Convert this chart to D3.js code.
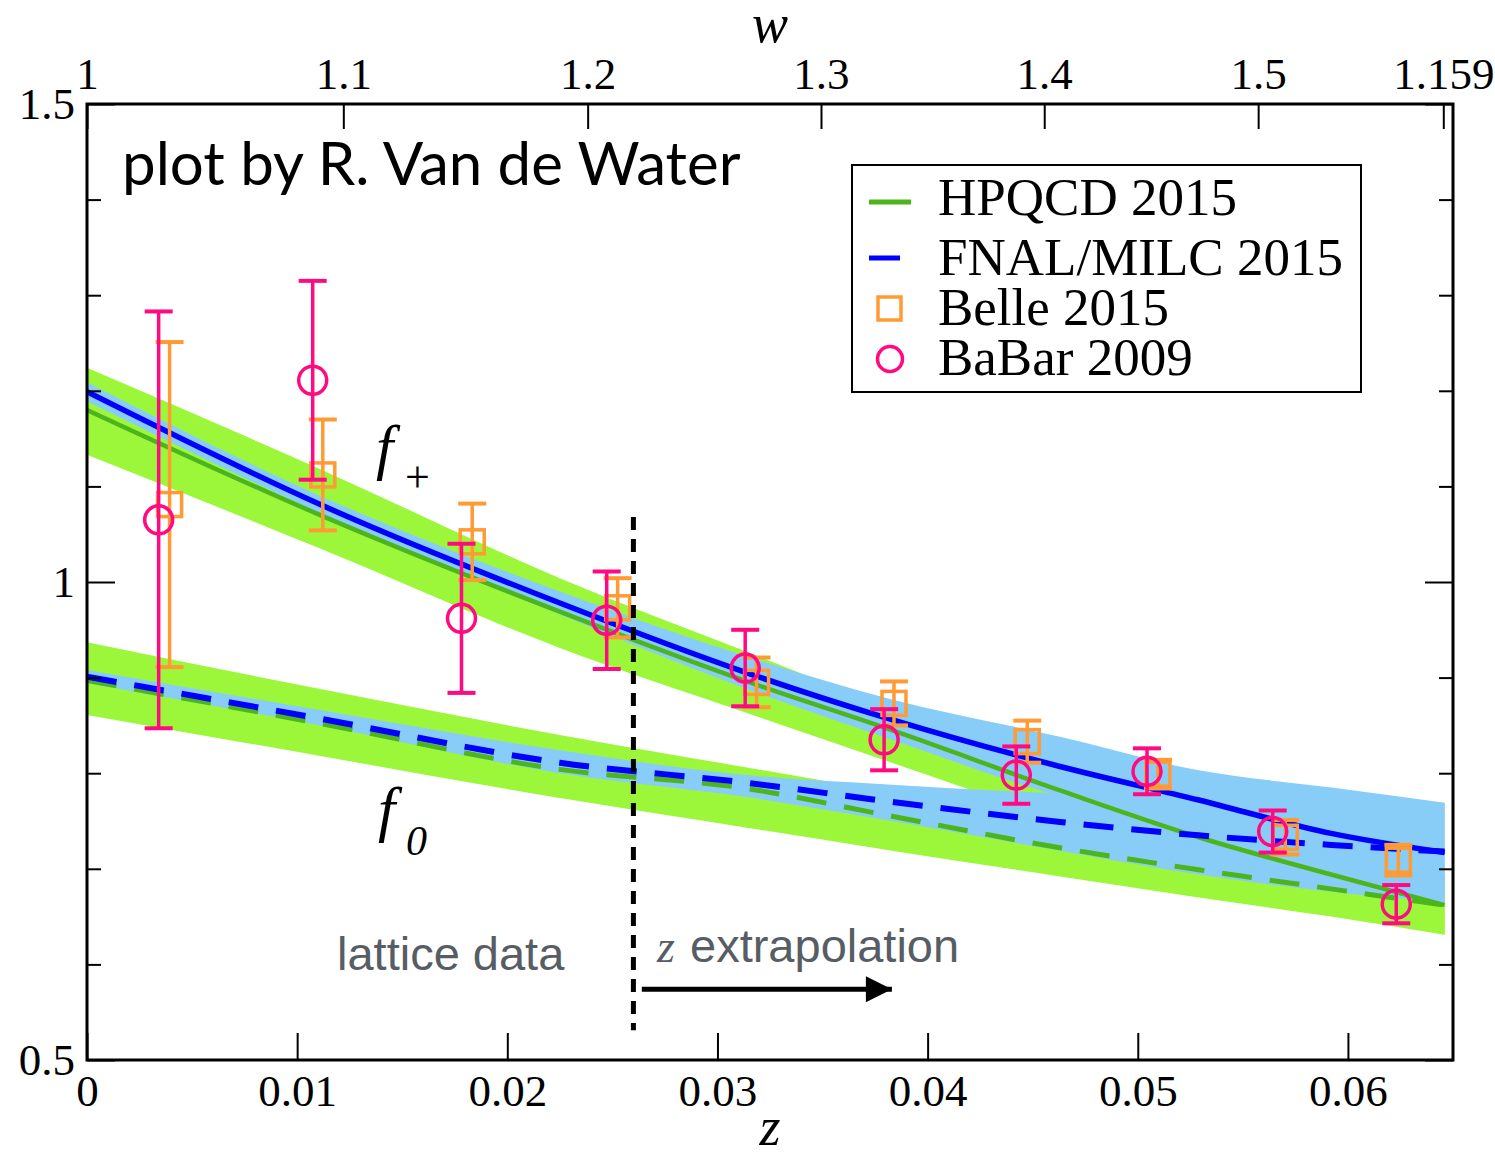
<!DOCTYPE html>
<html>
<head>
<meta charset="utf-8">
<script src="https://cdn.jsdelivr.net/npm/d3@7"></script>
<style>
  body { margin: 0; background: #fff; }
  svg { display: block; }
</style>
</head>
<body>
<div id="chart"></div>
<script>
// z sample points of the form-factor bands
const zGrid = [0, 0.0111, 0.0225, 0.0314, 0.0383, 0.0463, 0.0529, 0.0592, 0.0646];

// HPQCD 2015 (green): central values and band edges
const hpqcdFplus   = [1.180, 1.070, 0.969, 0.896, 0.845, 0.782, 0.733, 0.694, 0.662];
const hpqcdFplusHi = [1.224, 1.118, 1.004, 0.927, 0.868, 0.815, 0.775, 0.730, 0.693];
const hpqcdFplusLo = [1.133, 1.035, 0.931, 0.863, 0.811, 0.751, 0.705, 0.665, 0.631];
const hpqcdFzero   = [0.897, 0.852, 0.804, 0.784, 0.755, 0.722, 0.699, 0.679, 0.662];
const hpqcdFzeroHi = [0.937, 0.888, 0.840, 0.806, 0.780, 0.752, 0.728, 0.706, 0.693];
const hpqcdFzeroLo = [0.861, 0.818, 0.774, 0.743, 0.719, 0.692, 0.670, 0.650, 0.631];

// FNAL/MILC 2015 (blue)
const fnalFplus   = [1.199, 1.081, 0.978, 0.905, 0.856, 0.807, 0.772, 0.737, 0.717];
const fnalFplusHi = [1.209, 1.090, 0.990, 0.922, 0.877, 0.838, 0.803, 0.785, 0.769];
const fnalFplusLo = [1.189, 1.072, 0.966, 0.888, 0.835, 0.776, 0.741, 0.689, 0.665];
const fnalFzero   = [0.901, 0.857, 0.811, 0.790, 0.770, 0.749, 0.735, 0.725, 0.718];
const fnalFzeroHi = [0.908, 0.866, 0.824, 0.798, 0.788, 0.779, 0.776, 0.772, 0.769];
const fnalFzeroLo = [0.894, 0.850, 0.800, 0.775, 0.750, 0.719, 0.694, 0.676, 0.665];

// experimental points
const babarZ   = [0.00341, 0.01074, 0.01782, 0.02473, 0.03132, 0.03793, 0.04422, 0.05044, 0.05642, 0.06230];
const babarF   = [1.065, 1.211, 0.962, 0.960, 0.910, 0.835, 0.798, 0.802, 0.739, 0.663];
const babarErr = [0.218, 0.104, 0.078, 0.051, 0.040, 0.032, 0.030, 0.024, 0.022, 0.020];
const belleZ   = [0.00393, 0.01122, 0.01833, 0.02525, 0.03186, 0.03840, 0.04474, 0.05096, 0.05702, 0.06240];
const belleF   = [1.081, 1.112, 1.042, 0.973, 0.895, 0.873, 0.833, 0.799, 0.733, 0.709];
const belleErr = [0.170, 0.058, 0.040, 0.031, 0.026, 0.023, 0.022, 0.015, 0.018, 0.016];

// axes
const zTicks = [0, 0.01, 0.02, 0.03, 0.04, 0.05, 0.06];
const zTickLabels = ["0", "0.01", "0.02", "0.03", "0.04", "0.05", "0.06"];
const wTicks = [1, 1.1, 1.2, 1.3, 1.4, 1.5, 1.59];
const wTickLabels = ["1", "1.1", "1.2", "1.3", "1.4", "1.5", "1.159"];
const yMajorTicks = [0.5, 1, 1.5];
const yMinorTicks = [0.6, 0.7, 0.8, 0.9, 1.1, 1.2, 1.3, 1.4];

const legendLabels = ["HPQCD 2015", "FNAL/MILC 2015", "Belle 2015", "BaBar 2009"];

const zCut = 0.026;

const W = 1495, H = 1157;
const margin = {left: 87, right: 42, top: 104, bottom: 97};
const width = W - margin.left - margin.right;
const height = H - margin.top - margin.bottom;

const serif = "'Liberation Serif', 'Times New Roman', serif";
const sans = "'Liberation Sans', Arial, sans-serif";

const green = "#9cf73a", greenLine = "#4cb51c";
const blue = "#87cdf8", blueLine = "#0000ff";
const pink = "#ff0a80", orange = "#ff9a35";
const grey = "#575d64";

const svg = d3.select("#chart").append("svg")
  .attr("width", W)
  .attr("height", H);

const g = svg.append("g")
  .attr("transform", `translate(${margin.left},${margin.top})`);

const x = d3.scaleLinear().domain([0, 0.065]).range([0, width]);
const y = d3.scaleLinear().domain([0.5, 1.5]).range([height, 0]);

// w -> z conformal map, used only to place the top axis ticks
const wToZ = w => (Math.sqrt(w + 1) - Math.SQRT2) / (Math.sqrt(w + 1) + Math.SQRT2);

g.append("clipPath").attr("id", "clip")
  .append("rect").attr("width", width).attr("height", height);

const plot = g.append("g").attr("clip-path", "url(#clip)");

const area = (lo, hi) => d3.area()
  .x((d, i) => x(zGrid[i]))
  .y0((d, i) => y(lo[i]))
  .y1((d, i) => y(hi[i]))
  .curve(d3.curveMonotoneX)(zGrid);

const line = vals => d3.line()
  .x((d, i) => x(zGrid[i]))
  .y((d, i) => y(vals[i]))
  .curve(d3.curveMonotoneX)(zGrid);

// bands: green first, blue over them
plot.append("path").attr("d", area(hpqcdFplusLo, hpqcdFplusHi)).attr("fill", green);
plot.append("path").attr("d", area(hpqcdFzeroLo, hpqcdFzeroHi)).attr("fill", green);
plot.append("path").attr("d", area(fnalFplusLo, fnalFplusHi)).attr("fill", blue);
plot.append("path").attr("d", area(fnalFzeroLo, fnalFzeroHi)).attr("fill", blue);

// central curves
plot.append("path").attr("d", line(hpqcdFplus))
  .attr("fill", "none").attr("stroke", greenLine).attr("stroke-width", 4.5);
plot.append("path").attr("d", line(hpqcdFzero))
  .attr("fill", "none").attr("stroke", greenLine).attr("stroke-width", 5)
  .attr("stroke-dasharray", "30,18");
plot.append("path").attr("d", line(fnalFplus))
  .attr("fill", "none").attr("stroke", blueLine).attr("stroke-width", 5.5);
plot.append("path").attr("d", line(fnalFzero))
  .attr("fill", "none").attr("stroke", blueLine).attr("stroke-width", 6)
  .attr("stroke-dasharray", "30,18");

// error bars and markers
function drawPoints(zs, fs, errs, color, capHalf, marker) {
  const pts = zs.map((z, i) => ({z: z, f: fs[i], e: errs[i]}));
  const grp = plot.append("g").attr("stroke", color).attr("fill", "none");
  grp.selectAll(".bar").data(pts).enter().append("line")
    .attr("x1", d => x(d.z)).attr("x2", d => x(d.z))
    .attr("y1", d => y(d.f + d.e)).attr("y2", d => y(d.f - d.e))
    .attr("stroke-width", 3.5);
  [1, -1].forEach(s => {
    grp.selectAll(".cap" + s).data(pts).enter().append("line")
      .attr("x1", d => x(d.z) - capHalf).attr("x2", d => x(d.z) + capHalf)
      .attr("y1", d => y(d.f + s * d.e)).attr("y2", d => y(d.f + s * d.e))
      .attr("stroke-width", 4);
  });
  if (marker === "circle") {
    grp.selectAll(".m").data(pts).enter().append("circle")
      .attr("cx", d => x(d.z)).attr("cy", d => y(d.f)).attr("r", 14)
      .attr("stroke-width", 3.5);
  } else {
    grp.selectAll(".m").data(pts).enter().append("rect")
      .attr("x", d => x(d.z) - 12).attr("y", d => y(d.f) - 12)
      .attr("width", 24).attr("height", 24)
      .attr("stroke-width", 3.5);
  }
}
drawPoints(belleZ, belleF, belleErr, orange, 14, "square");
drawPoints(babarZ, babarF, babarErr, pink, 14, "circle");

// lattice / extrapolation divider and arrow
g.append("line")
  .attr("x1", x(zCut)).attr("x2", x(zCut))
  .attr("y1", y(1.068)).attr("y2", y(0.531))
  .attr("stroke", "#000").attr("stroke-width", 5)
  .attr("stroke-dasharray", "13,9");

svg.append("defs").append("marker")
  .attr("id", "arrowhead")
  .attr("viewBox", "0 0 10 10").attr("refX", 10).attr("refY", 5)
  .attr("markerUnits", "userSpaceOnUse")
  .attr("markerWidth", 28).attr("markerHeight", 26)
  .attr("orient", "auto")
  .append("path").attr("d", "M0,0 L10,5 L0,10 Z").attr("fill", "#000");

g.append("line")
  .attr("x1", x(0.0264)).attr("x2", x(0.0383))
  .attr("y1", y(0.574)).attr("y2", y(0.574))
  .attr("stroke", "#000").attr("stroke-width", 5)
  .attr("marker-end", "url(#arrowhead)");

// axes: ticks pointing inward on all four sides
const fmt = (vals, labels) => v => labels[vals.indexOf(v)];

const axBottom = g.append("g").attr("transform", `translate(0,${height})`)
  .call(d3.axisBottom(x).tickValues(zTicks).tickFormat(fmt(zTicks, zTickLabels))
    .tickSizeInner(-27).tickSizeOuter(0).tickPadding(14));

const axTop = g.append("g")
  .call(d3.axisTop(x).tickValues(wTicks.map(wToZ)).tickFormat((d, i) => wTickLabels[i])
    .tickSizeInner(-25).tickSizeOuter(0).tickPadding(15));

const axLeft = g.append("g")
  .call(d3.axisLeft(y).tickValues(yMajorTicks).tickFormat(d3.format("~g"))
    .tickSizeInner(-28).tickSizeOuter(0).tickPadding(12));
const axLeftMinor = g.append("g")
  .call(d3.axisLeft(y).tickValues(yMinorTicks).tickFormat("")
    .tickSizeInner(-14).tickSizeOuter(0));
const axRight = g.append("g").attr("transform", `translate(${width},0)`)
  .call(d3.axisRight(y).tickValues(yMajorTicks).tickFormat("")
    .tickSizeInner(-28).tickSizeOuter(0));
const axRightMinor = g.append("g").attr("transform", `translate(${width},0)`)
  .call(d3.axisRight(y).tickValues(yMinorTicks).tickFormat("")
    .tickSizeInner(-14).tickSizeOuter(0));

[axBottom, axTop, axLeft, axLeftMinor, axRight, axRightMinor].forEach(a => {
  a.select(".domain").remove();
  a.selectAll(".tick line").attr("stroke", "#000").attr("stroke-width", 2);
  a.selectAll(".tick text")
    .attr("font-family", serif).attr("font-size", 45).attr("fill", "#000");
});
axLeft.selectAll(".tick text").attr("dy", "0.33em");

// frame
g.append("rect")
  .attr("width", width).attr("height", height)
  .attr("fill", "none").attr("stroke", "#000").attr("stroke-width", 3);

// axis titles
svg.append("text").attr("x", 770).attr("y", 42)
  .attr("text-anchor", "middle").attr("font-family", serif)
  .attr("font-style", "italic").attr("font-size", 54).text("w");
svg.append("text").attr("x", 770).attr("y", 1145)
  .attr("text-anchor", "middle").attr("font-family", serif)
  .attr("font-style", "italic").attr("font-size", 54).text("z");

// annotations
svg.append("text").attr("x", 122).attr("y", 185)
  .attr("font-family", "Lato, 'Open Sans', sans-serif").attr("font-size", 60)
  .text("plot by R. Van de Water");

const fplus = svg.append("text").attr("font-family", serif).attr("font-style", "italic");
fplus.append("tspan").attr("x", 376).attr("y", 468).attr("font-size", 62).text("f");
fplus.append("tspan").attr("x", 405).attr("y", 492).attr("font-size", 44)
  .attr("font-style", "normal").text("+");

const fzero = svg.append("text").attr("font-family", serif).attr("font-style", "italic");
fzero.append("tspan").attr("x", 378).attr("y", 830).attr("font-size", 62).text("f");
fzero.append("tspan").attr("x", 406).attr("y", 855).attr("font-size", 42).text("0");

svg.append("text").attr("x", 337).attr("y", 970)
  .attr("font-family", sans).attr("font-size", 47).attr("fill", grey)
  .text("lattice data");

const extra = svg.append("text").attr("y", 962).attr("fill", grey);
extra.append("tspan").attr("x", 657).attr("font-family", serif)
  .attr("font-style", "italic").attr("font-size", 46).text("z");
extra.append("tspan").attr("x", 690).attr("font-family", sans)
  .attr("font-size", 47).text("extrapolation");

// legend
const legend = svg.append("g");
legend.append("rect")
  .attr("x", 852).attr("y", 165).attr("width", 509).attr("height", 227)
  .attr("fill", "#fff").attr("stroke", "#000").attr("stroke-width", 2);

const rowY = [215, 275, 325, 375];
legend.selectAll(".lab").data(legendLabels).enter().append("text")
  .attr("x", 938).attr("y", (d, i) => rowY[i])
  .attr("font-family", serif).attr("font-size", 53).text(d => d);

legend.append("line").attr("x1", 869).attr("x2", 911).attr("y1", 202).attr("y2", 202)
  .attr("stroke", greenLine).attr("stroke-width", 5);
legend.append("line").attr("x1", 869).attr("x2", 900).attr("y1", 258).attr("y2", 258)
  .attr("stroke", blueLine).attr("stroke-width", 5);
legend.append("rect").attr("x", 878).attr("y", 297).attr("width", 23).attr("height", 23)
  .attr("fill", "none").attr("stroke", orange).attr("stroke-width", 3.5);
legend.append("circle").attr("cx", 890).attr("cy", 359).attr("r", 12.5)
  .attr("fill", "none").attr("stroke", pink).attr("stroke-width", 3.5);
</script>
</body>
</html>
